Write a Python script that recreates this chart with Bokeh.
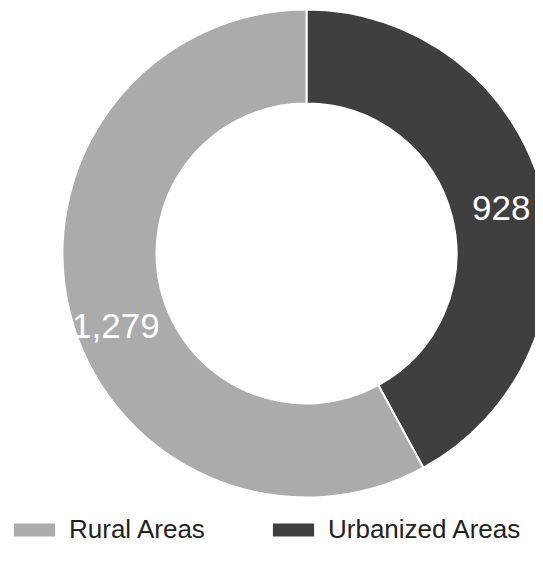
import numpy as np
from bokeh.plotting import figure
from bokeh.models import ColumnDataSource, Range1d, Legend, LegendItem
from bokeh.core.properties import value
from bokeh.embed import file_html
from bokeh.resources import INLINE

# ---- data ----
categories = ["Urbanized Areas", "Rural Areas"]
counts = [928, 1279]
labels = ["928", "1,279"]
legend_order = ["Rural Areas", "Urbanized Areas"]

# ---- style ----
colors = ["#3f3f3f", "#ababab"]
label_dx = [-3, 7]     # small nudges of the inside labels (px)
label_dy = [-5, -22]

# ---- geometry (pixels; y measured downward, stored negative) ----
W, H = 535, 558
cx, cy = 306, -253
r_in, r_out = 150, 244
r_lab = 204

vals = np.array(counts, dtype=float)
frac = vals / vals.sum()
cum = np.concatenate([[0], np.cumsum(frac)])
# clockwise from 12 o'clock
start = np.pi / 2 - cum[1:] * 2 * np.pi
end = np.pi / 2 - cum[:-1] * 2 * np.pi
mid = (start + end) / 2

src = ColumnDataSource(dict(
    cat=categories, start=start, end=end, color=colors,
    lx=cx + r_lab * np.cos(mid) + np.array(label_dx),
    ly=cy + r_lab * np.sin(mid) + np.array(label_dy),
    label=labels,
))

p = figure(width=W, height=H, output_backend="svg", toolbar_location=None,
           x_range=Range1d(0, W), y_range=Range1d(-H, 0), min_border=0,
           outline_line_color=None, background_fill_color="white")
p.axis.visible = False
p.grid.visible = False

wedges = p.annular_wedge(x=cx, y=cy, inner_radius=r_in, outer_radius=r_out,
                         start_angle="start", end_angle="end", source=src,
                         fill_color="color", line_color="white", line_width=2)

p.text(x="lx", y="ly", text="label", source=src, text_color="white",
       text_font=value("Liberation Sans"), text_font_size="35px",
       text_align="center", text_baseline="middle")

items = []
for name in legend_order:
    i = categories.index(name)
    items.append(LegendItem(label=name, renderers=[wedges], index=i))

legend = Legend(items=items, orientation="horizontal", location=(7, 13),
                glyph_width=54, glyph_height=19, label_standoff=8, spacing=0,
                label_width=197, label_height=19,
                padding=0, margin=0, border_line_alpha=0, background_fill_alpha=0,
                label_text_font="Liberation Sans", label_text_font_size="26px",
                label_text_color="#222222")
p.add_layout(legend, "center")

open("out.html", "w").write(file_html(p, INLINE))
